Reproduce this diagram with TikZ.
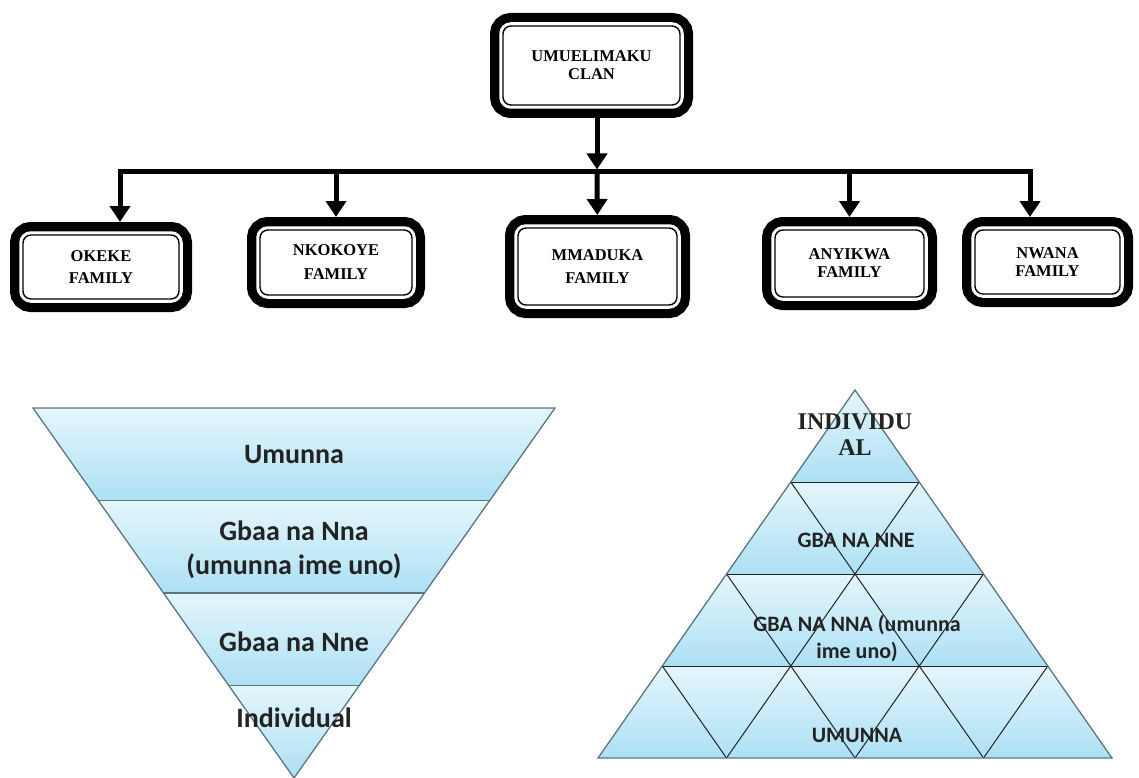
\documentclass[tikz,border=0pt]{standalone}
\usepackage{fontspec}
\setmainfont{Liberation Serif}
\newfontfamily\calibfont{Carlito}
\usetikzlibrary{arrows.meta}
\usetikzlibrary{calc}
\definecolor{bandtop}{RGB}{228,246,252}
\definecolor{bandbot}{RGB}{172,224,244}
\definecolor{edgegray}{RGB}{92,118,128}
\definecolor{inkgray}{RGB}{35,35,35}
\tikzset{x=1pt, y=-1pt,
famnode/.style={ % thick black frame, white gap, thin inner line
rounded corners=8pt,
fill=white, draw=black, line width=1.4pt,
preaction={draw=black, line width=26pt},
preaction={draw=white, line width=7.5pt},
outer sep=13pt, inner sep=0pt, align=center,
font=\bfseries\fontsize{16.5}{18}\selectfont},
tree/.style={draw, line width=5pt},
treearrow/.style={tree, -{Triangle[length=16pt,width=20pt]}},
band/.style={top color=bandtop, bottom color=bandbot},
wedgetext/.style={align=center, text=inkgray,
font=\calibfont\bfseries\fontsize{28}{34}\selectfont},
pyrtext/.style={align=center, text=inkgray,
font=\calibfont\bfseries\fontsize{22}{27}\selectfont}}

\begin{document}
\begin{tikzpicture}
	\useasboundingbox (0,0) rectangle (1139,778);
	% clan tree
	\node[famnode, minimum width=177, minimum height=79] (clan) at (591.5,65.5) {UMUELIMAKU\\CLAN};
	\node[famnode, minimum width=156, minimum height=64] (okeke) at (101,267) {OKEKE\\[4pt]FAMILY};
	\node[famnode, minimum width=152, minimum height=65] (nkokoye) at (336,262.5) {NKOKOYE\\[6pt]FAMILY};
	\node[famnode, minimum width=159, minimum height=77] (mmaduka) at (597.5,266.5) {MMADUKA\\[5pt]FAMILY};
	\node[famnode, minimum width=149, minimum height=67] (anyikwa) at (849.5,263.5) {ANYIKWA\\FAMILY};
	\node[famnode, minimum width=145, minimum height=64] (nwana) at (1047.5,262) {NWANA\\FAMILY};
	\coordinate (bus) at (597,172);
	\coordinate (busL) at (120,172);
	\coordinate (busR) at (1030,172);
	\draw[treearrow] (clan.south -| bus) -- ([yshift=2.5pt]bus);
	\draw[treearrow] (bus) -- (busL) -- (busL |- okeke.north);
	\draw[treearrow] (bus) -- (busR) -- (busR |- nwana.north);
	\draw[treearrow] (nkokoye |- bus) -- (nkokoye);
	\draw[treearrow] (bus) -- (mmaduka);
	\draw[treearrow] (anyikwa |- bus) -- (anyikwa);

	% inverted triangle
	\coordinate (wL) at (33,408);
	\coordinate (wR) at (555,408);
	\coordinate (wA) at (294,778);
	\foreach \a/\b in {0/0.25, 0.25/0.5, 0.5/0.75, 0.75/1}
		\shade[band] ($(wL)!\a!(wA)$) -- ($(wR)!\a!(wA)$) -- ($(wR)!\b!(wA)$) -- ($(wL)!\b!(wA)$) -- cycle;
	\draw[edgegray, line width=1.3pt] (wL) -- (wR) -- (wA) -- cycle;
	\foreach \f in {0.25, 0.5, 0.75}
		\draw[edgegray, line width=1.8pt] ($(wL)!\f!(wA)$) -- ($(wR)!\f!(wA)$);
	\node[wedgetext] (umunnaW) at (294,455) {Umunna};
	\node[wedgetext] (gbaannaW) at (294,550) {Gbaa na Nna\\(umunna ime uno)};
	\node[wedgetext] (gbaanneW) at (294,642) {Gbaa na Nne};
	\node[wedgetext] (individualW) at (294,718) {Individual};

	% pyramid
	\coordinate (pA) at (855,390);
	\coordinate (pL) at (598,758);
	\coordinate (pR) at (1112,758);
	\foreach \a/\b in {0/0.25, 0.25/0.5, 0.5/0.75, 0.75/1}
		\shade[band] ($(pA)!\a!(pL)$) -- ($(pA)!\a!(pR)$) -- ($(pA)!\b!(pR)$) -- ($(pA)!\b!(pL)$) -- cycle;
	\foreach \f in {0.25, 0.5, 0.75} {
		\draw[inkgray, line width=1pt] ($(pA)!\f!(pL)$) -- ($(pA)!\f!(pR)$);
		\draw[inkgray, line width=1pt] ($(pA)!\f!(pL)$) -- ($(pL)!1-\f!(pR)$);
		\draw[inkgray, line width=1pt] ($(pA)!\f!(pR)$) -- ($(pL)!\f!(pR)$);
	}
	\draw[edgegray, line width=1.3pt] (pA) -- (pL) -- (pR) -- cycle;
	\node[align=center, text=inkgray, font=\bfseries\fontsize{24}{26}\selectfont] (indiv) at (855,435) {INDIVIDU\\AL};
	\node[pyrtext] (gbanne) at (856,540) {GBA NA NNE};
	\node[pyrtext] (gbanna) at (857,638) {GBA NA NNA (umunna\\ime uno)};
	\node[pyrtext] (umunnaP) at (857,735) {UMUNNA};
\end{tikzpicture}
\end{document}
